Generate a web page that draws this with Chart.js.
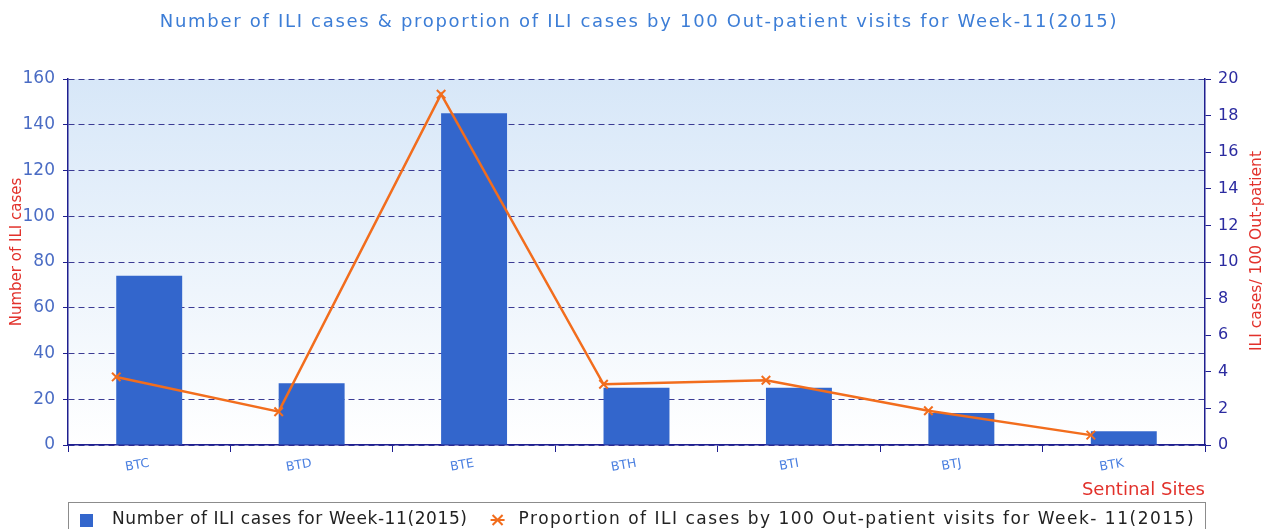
<!DOCTYPE html>
<html>
<head>
<meta charset="utf-8">
<script src="https://cdn.jsdelivr.net/npm/chart.js@4"></script>
<style>
  html, body { margin: 0; padding: 0; background: #ffffff; }
  #wrap { width: 1268px; height: 529px; }
</style>
</head>
<body>
<div id="wrap"><canvas id="chart" width="1268" height="529"></canvas></div>
<script>
const sites = ['BTC', 'BTD', 'BTE', 'BTH', 'BTI', 'BTJ', 'BTK'];
const iliCases = [74, 27, 145, 25, 25, 14, 6];
const iliPer100 = [3.72, 1.82, 19.17, 3.32, 3.54, 1.87, 0.54];

const chartTitle = 'Number of ILI cases & proportion of ILI cases by 100 Out-patient visits for Week-11(2015)';
const barLabel = 'Number of ILI cases for Week-11(2015)';
const lineLabel = 'Proportion of ILI cases by 100 Out-patient visits for Week- 11(2015)';

const FONT = "'DejaVu Sans', Verdana, sans-serif";
const BAR_BLUE = '#3366cc';
const LINE_ORANGE = '#f26d1d';
const RED = '#e2312b';
const BAR_FRAC = 0.406;

function drawCross(ctx, x, y, r) {
  ctx.beginPath();
  ctx.moveTo(x - r, y - r); ctx.lineTo(x + r, y + r);
  ctx.moveTo(x + r, y - r); ctx.lineTo(x - r, y + r);
  ctx.stroke();
}

// background, title, axis titles and the framed legend
const extras = {
  id: 'extras',
  beforeDraw(chart) {
    const { ctx, chartArea: a } = chart;
    const g = ctx.createLinearGradient(0, a.top, 0, a.bottom);
    g.addColorStop(0, '#d7e7f8');
    g.addColorStop(1, '#ffffff');
    ctx.save();
    ctx.fillStyle = g;
    ctx.fillRect(a.left, a.top, a.right - a.left, a.bottom - a.top);
    ctx.restore();
  },
  afterDraw(chart) {
    const { ctx, chartArea: a } = chart;

    ctx.save();
    ctx.textBaseline = 'middle';
    ctx.textAlign = 'center';
    ctx.fillStyle = '#3c7dd6';
    ctx.font = '18px ' + FONT;
    ctx.letterSpacing = '1.7px';
    ctx.fillText(chartTitle, 639, 22);
    ctx.restore();

    ctx.save();
    ctx.fillStyle = RED;
    ctx.font = '15px ' + FONT;
    ctx.textAlign = 'center';
    ctx.textBaseline = 'middle';
    ctx.translate(17, 252);
    ctx.rotate(-Math.PI / 2);
    ctx.fillText('Number of ILI cases', 0, 0);
    ctx.restore();

    ctx.save();
    ctx.fillStyle = RED;
    ctx.font = '15.5px ' + FONT;
    ctx.textAlign = 'center';
    ctx.textBaseline = 'middle';
    ctx.translate(1257, 251);
    ctx.rotate(-Math.PI / 2);
    ctx.fillText('ILI cases/ 100 Out-patient', 0, 0);
    ctx.restore();

    // legend
    const top = 502;
    const cy = 520;
    ctx.save();
    ctx.strokeStyle = '#8c8c8c';
    ctx.lineWidth = 1;
    ctx.strokeRect(a.left + 0.5, top + 0.5, a.right - a.left, 60);
    ctx.font = '17px ' + FONT;
    ctx.textBaseline = 'middle';
    ctx.textAlign = 'left';
    ctx.fillStyle = BAR_BLUE;
    let x = a.left + 12;
    ctx.fillRect(x, cy - 6, 13, 13);
    x += 32;
    ctx.fillStyle = '#222222';
    ctx.letterSpacing = '0.6px';
    ctx.fillText(barLabel, x, cy);
    x += ctx.measureText(barLabel).width + 30;
    ctx.strokeStyle = LINE_ORANGE;
    ctx.lineWidth = 2;
    drawCross(ctx, x, cy, 5);
    ctx.beginPath();
    ctx.moveTo(x - 7, cy); ctx.lineTo(x + 7, cy);
    ctx.stroke();
    x += 21;
    ctx.letterSpacing = '1.5px';
    ctx.fillText(lineLabel, x, cy);
    ctx.restore();
  }
};

new Chart(document.getElementById('chart'), {
  data: {
    labels: sites,
    datasets: [
      {
        type: 'bar',
        label: barLabel,
        data: iliCases,
        backgroundColor: BAR_BLUE,
        borderWidth: 0,
        grouped: false,
        categoryPercentage: 1,
        barPercentage: BAR_FRAC,
        xAxisID: 'x',
        yAxisID: 'y',
        order: 2
      },
      {
        type: 'line',
        label: lineLabel,
        data: iliPer100.map((v, i) => ({ x: i - BAR_FRAC / 2, y: v })),
        borderColor: LINE_ORANGE,
        backgroundColor: LINE_ORANGE,
        borderWidth: 2.5,
        pointStyle: 'crossRot',
        pointRadius: 6,
        pointBorderWidth: 2,
        tension: 0,
        xAxisID: 'xl',
        yAxisID: 'y1',
        order: 1
      }
    ]
  },
  options: {
    responsive: false,
    animation: false,
    layout: { padding: { top: 79, bottom: 27, left: 0, right: 0 } },
    plugins: {
      title: { display: false },
      legend: { display: false },
      tooltip: { enabled: false }
    },
    scales: {
      x: {
        type: 'category',
        position: 'bottom',
        offset: true,
        afterFit: s => { s.height = 57; },
        grid: {
          offset: true,
          drawOnChartArea: false,
          tickLength: 7,
          tickColor: '#1f1f8f'
        },
        border: { color: '#1f1f8f', width: 1.5 },
        ticks: {
          color: '#4a7fe0',
          font: { family: FONT, size: 12.5 },
          minRotation: 10,
          maxRotation: 10,
          padding: 4
        },
        title: {
          display: true,
          text: 'Sentinal Sites',
          align: 'end',
          color: RED,
          font: { family: FONT, size: 18 },
          padding: { top: 0, bottom: 1 }
        }
      },
      xl: {
        type: 'linear',
        display: false,
        min: -0.5,
        max: sites.length - 0.5,
        offset: false
      },
      y: {
        position: 'left',
        min: 0,
        max: 160,
        afterFit: s => { s.width = 68; },
        ticks: {
          stepSize: 10,
          color: '#4a6cc4',
          font: { family: FONT, size: 17 },
          padding: 8,
          callback: v => (v % 20 === 0 ? v : '')
        },
        grid: {
          color: c => (c.tick && c.tick.value % 20 === 0 ? '#3b3b94' : 'rgba(0,0,0,0)'),
          tickColor: '#1f1f8f',
          tickLength: 5,
          lineWidth: 1
        },
        border: { color: '#1f1f8f', width: 1.5, dash: [6, 4] }
      },
      y1: {
        position: 'right',
        min: 0,
        max: 20,
        afterFit: s => { s.width = 63; },
        ticks: {
          stepSize: 1,
          color: '#2b2ba0',
          font: { family: FONT, size: 16 },
          padding: 7,
          callback: v => (v % 2 === 0 ? v : '')
        },
        grid: {
          drawOnChartArea: false,
          tickColor: '#1f1f8f',
          tickLength: 6
        },
        border: { color: '#1f1f8f', width: 1.5 }
      }
    }
  },
  plugins: [extras]
});
</script>
</body>
</html>
